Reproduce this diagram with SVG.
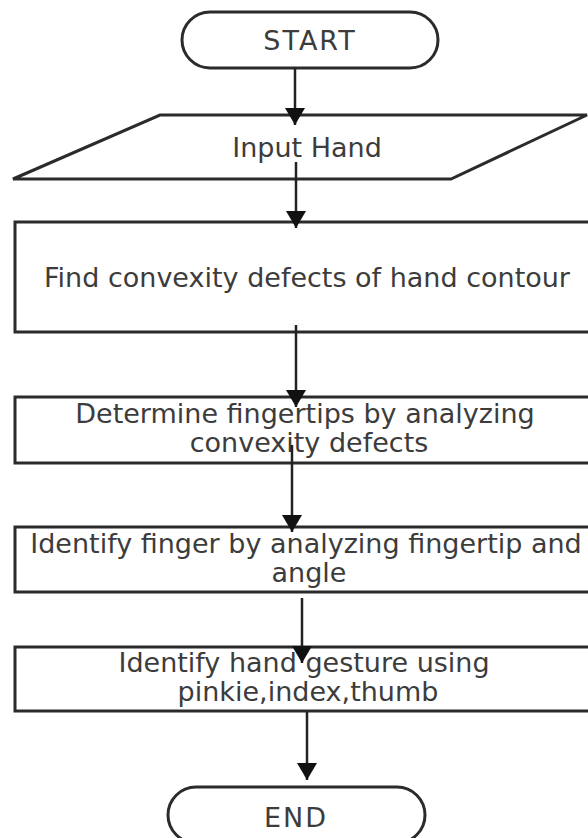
<svg xmlns="http://www.w3.org/2000/svg" width="588" height="838" viewBox="0 0 588 838">
  <style>
    .shape { fill: #ffffff; stroke: #2b2b2b; stroke-width: 3; }
    .label { font-family: "DejaVu Sans", "Liberation Sans", sans-serif; font-size: 27px; fill: #3c3c3c; text-anchor: middle; }
    .term { letter-spacing: 2px; }
    .flow { stroke: #222222; stroke-width: 2.5; fill: none; marker-end: url(#arrow); }
  </style>
  <defs>
    <marker id="arrow" viewBox="0 0 17 20" refX="17" refY="10" markerWidth="17" markerHeight="20" markerUnits="userSpaceOnUse" orient="auto">
      <path d="M0,0 L17,10 L0,20 Z" fill="#111111"/>
    </marker>
  </defs>
  <rect width="588" height="838" fill="#ffffff"/>

  <g id="start">
    <rect class="shape" x="182" y="12" width="256" height="56" rx="28" ry="28"/>
    <text class="label term" x="310" y="50">START</text>
  </g>

  <g id="input-hand">
    <polygon class="shape" points="160,115 587,115 451,179 13,179"/>
    <text class="label" x="307" y="157">Input Hand</text>
  </g>

  <g id="find-defects">
    <rect class="shape" x="15" y="222" width="600" height="110"/>
    <text class="label" x="307" y="287">Find convexity defects of hand contour</text>
  </g>

  <g id="fingertips">
    <rect class="shape" x="15" y="397" width="600" height="66"/>
    <text class="label" x="305" y="423">Determine fingertips by analyzing</text>
    <text class="label" x="309" y="452">convexity defects</text>
  </g>

  <g id="identify-finger">
    <rect class="shape" x="15" y="527" width="600" height="65"/>
    <text class="label" x="306" y="553">Identify finger by analyzing fingertip and</text>
    <text class="label" x="309" y="582">angle</text>
  </g>

  <g id="identify-gesture">
    <rect class="shape" x="15" y="647" width="600" height="64"/>
    <text class="label" x="304" y="672">Identify hand gesture using</text>
    <text class="label" x="308" y="701">pinkie,index,thumb</text>
  </g>

  <g id="end">
    <rect class="shape" x="168" y="787" width="257" height="56" rx="28" ry="28"/>
    <text class="label term" x="296" y="827">END</text>
  </g>

  <g id="connectors">
    <line class="flow" x1="295" y1="68" x2="295" y2="125"/>
    <line class="flow" x1="296" y1="162" x2="296" y2="228"/>
    <line class="flow" x1="296" y1="325" x2="296" y2="407"/>
    <line class="flow" x1="292" y1="445" x2="292" y2="532"/>
    <line class="flow" x1="302" y1="598" x2="302" y2="663"/>
    <line class="flow" x1="307" y1="711" x2="307" y2="780"/>
  </g>
</svg>
